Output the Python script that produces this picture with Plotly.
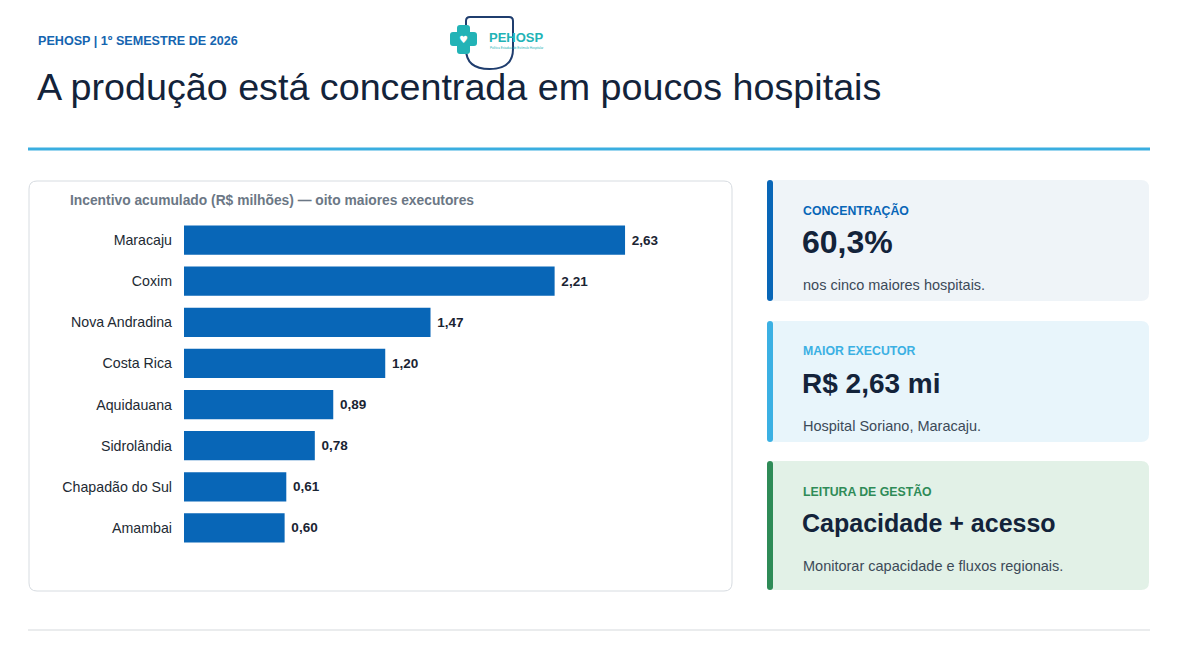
import plotly.graph_objects as go

W, H = 1182, 645

# data
hospitais = ["Maracaju", "Coxim", "Nova Andradina", "Costa Rica",
             "Aquidauana", "Sidrolândia", "Chapadão do Sul", "Amambai"]
incentivo = [2.63, 2.21, 1.47, 1.20, 0.89, 0.78, 0.61, 0.60]

card_labels = ["CONCENTRAÇÃO", "MAIOR EXECUTOR", "LEITURA DE GESTÃO"]
card_values = ["60,3%", "R$ 2,63 mi", "Capacidade + acesso"]
card_notes = ["nos cinco maiores hospitais.", "Hospital Soriano, Maracaju.",
              "Monitorar capacidade e fluxos regionais."]

FONT = "Liberation Sans, Arial, sans-serif"
NAVY = "#13233a"
BLUE = "#0866b7"
OFF = 8  # page body margin in the browser


def px(x):
    return (x - OFF) / W


def py(y):
    return 1 - (y - OFF) / H


def rounded(x0, y0, x1, y1, r):
    # rounded rect path in paper coords, inputs in pixels (top-left origin)
    rx, ry = r / W, r / H
    a, b, c, d = px(x0), py(y0), px(x1), py(y1)
    return (f"M{a+rx},{b} L{c-rx},{b} Q{c},{b} {c},{b-ry} "
            f"L{c},{d+ry} Q{c},{d} {c-rx},{d} L{a+rx},{d} "
            f"Q{a},{d} {a},{d+ry} L{a},{b-ry} Q{a},{b} {a+rx},{b} Z")


fig = go.Figure()

fig.add_trace(go.Bar(
    x=incentivo,
    y=hospitais,
    orientation="h",
    marker=dict(color=BLUE, line=dict(width=0)),
    texttemplate=" %{x:.2f}",
    textposition="outside",
    textfont=dict(family=FONT, size=13.5, color="#1a2433", weight="bold"),
    cliponaxis=False,
    hoverinfo="skip",
))

shapes = []
annotations = []

# chart card
shapes.append(dict(type="path", path=rounded(29, 181, 732, 591, 8),
                   xref="paper", yref="paper", fillcolor="white",
                   line=dict(color="#d7dce1", width=1), layer="below"))

# header rule and footer rule
shapes.append(dict(type="line", xref="paper", yref="paper",
                   x0=px(28), x1=px(1150), y0=py(149), y1=py(149),
                   line=dict(color="#3aaee0", width=3)))
shapes.append(dict(type="line", xref="paper", yref="paper",
                   x0=px(28), x1=px(1150), y0=py(630), y1=py(630),
                   line=dict(color="#d5d9dc", width=1)))

# right cards
card_boxes = [(180, 301), (321, 442), (461, 590)]
card_bg = ["#eff4f8", "#e8f5fb", "#e2f1e7"]
card_accent = [BLUE, "#3bb0e3", "#2e8b57"]
value_size = [32, 28, 25]
for (top, bot), bg, acc, vs, lab, val, note in zip(card_boxes, card_bg, card_accent, value_size,
                                                    card_labels, card_values, card_notes):
    shapes.append(dict(type="path", path=rounded(767, top, 1149, bot, 8),
                       xref="paper", yref="paper", fillcolor=bg,
                       line=dict(width=0), layer="below"))
    shapes.append(dict(type="path", path=rounded(767, top, 773, bot, 3),
                       xref="paper", yref="paper", fillcolor=acc,
                       line=dict(width=0), layer="below"))
    annotations.append(dict(x=px(801), y=py(top + 30), text=lab,
                            font=dict(family=FONT, size=12.3, color=acc, weight="bold")))
    annotations.append(dict(x=px(800), y=py(top + 62), text=val,
                            font=dict(family=FONT, size=vs, color=NAVY, weight="bold")))
    annotations.append(dict(x=px(801), y=py(top + 105), text=note,
                            font=dict(family=FONT, size=14.5, color="#3c4a58")))

# header texts
annotations.append(dict(x=px(36), y=py(41), text="PEHOSP | 1º SEMESTRE DE 2026",
                        font=dict(family=FONT, size=12.6, color="#1565b0", weight="bold")))
annotations.append(dict(x=px(35), y=py(87),
                        text="A produção está concentrada em poucos hospitais",
                        font=dict(family=FONT, size=37.7, color=NAVY)))
annotations.append(dict(x=px(68), y=py(201),
                        text="Incentivo acumulado (R$ milhões) — oito maiores executores",
                        font=dict(family=FONT, size=13.8, color="#6b7785", weight="bold")))

# logo: shield outline, cross, name
shield = (f"M{px(466)},{py(49)} L{px(466)},{py(21)} Q{px(466)},{py(17)} {px(470)},{py(17)} "
          f"L{px(509)},{py(17)} Q{px(513)},{py(17)} {px(513)},{py(21)} L{px(513)},{py(49)} "
          f"Q{px(513)},{py(69)} {px(489.5)},{py(69)} Q{px(466)},{py(69)} {px(466)},{py(49)}")
shapes.append(dict(type="path", path=shield, xref="paper", yref="paper",
                   line=dict(color="#1f3d6e", width=2)))
teal = "#22b3b6"
shapes.append(dict(type="path", path=rounded(457, 25, 470, 54, 3), xref="paper",
                   yref="paper", fillcolor=teal, line=dict(width=0)))
shapes.append(dict(type="path", path=rounded(450, 32, 477, 46, 3), xref="paper",
                   yref="paper", fillcolor=teal, line=dict(width=0)))
annotations.append(dict(x=px(463.5), y=py(39), text="♥", xanchor="center",
                        font=dict(family="DejaVu Sans", size=10, color="white")))
annotations.append(dict(x=px(487), y=py(38), text="PEHOSP",
                        font=dict(family=FONT, size=13, color=teal, weight="bold")))
annotations.append(dict(x=px(488), y=py(48), text="Política Estadual de Estímulo Hospitalar",
                        font=dict(family=FONT, size=3, color=teal)))

for a in annotations:
    a.update(xref="paper", yref="paper", showarrow=False,
             xanchor=a.get("xanchor", "left"), yanchor="middle")

fig.update_layout(
    width=W, height=H,
    margin=dict(l=0, r=0, t=0, b=0),
    paper_bgcolor="white",
    plot_bgcolor="rgba(0,0,0,0)",
    separators=",.",
    showlegend=False,
    bargap=0.29,
    shapes=shapes,
    annotations=annotations,
    xaxis=dict(domain=[px(184), px(184 + 3 * 167.7)], range=[0, 3],
               visible=False, fixedrange=True),
    yaxis=dict(domain=[py(548.5), py(219.5)], autorange="reversed",
               showgrid=False, zeroline=False, showline=False, ticks="",
               ticklabelstandoff=11, fixedrange=True,
               tickfont=dict(family=FONT, size=14.2, color="#222a33")),
)

fig.write_html("out.html")
